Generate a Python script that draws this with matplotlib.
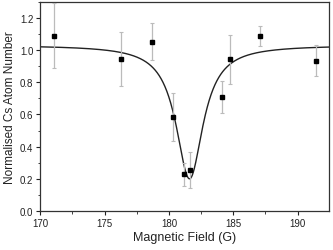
import numpy as np
import matplotlib
matplotlib.use("Agg")
import matplotlib.pyplot as plt
from matplotlib.ticker import MultipleLocator

plt.rcParams['font.family'] = ['Liberation Sans', 'DejaVu Sans']

# measured data
field = [171.04, 176.27, 178.70, 180.34, 181.17, 181.63, 184.09, 184.71, 187.04, 191.42]
atoms = [1.090, 0.945, 1.053, 0.585, 0.228, 0.255, 0.707, 0.943, 1.088, 0.933]
err = [0.200, 0.168, 0.115, 0.148, 0.070, 0.114, 0.100, 0.152, 0.060, 0.096]

# Lorentzian fit parameters
fit_base = 1.03
fit_depth = 0.83
fit_center = 181.6
fit_width = 1.28

fig = plt.figure(figsize=(3.33, 2.51), dpi=100)
ax = fig.add_axes([0.121, 0.1554, 0.8655, 0.8336])

xf = np.linspace(170, 192.4, 600)
yf = fit_base - fit_depth / (1 + ((xf - fit_center) / fit_width) ** 2)
ax.plot(xf, yf, color='#222222', lw=1.0, zorder=2)

ax.errorbar(field, atoms, yerr=err, fmt='s', color='black', ms=3.4,
            ecolor='#bbbbbb', elinewidth=0.9, capsize=1.6, capthick=0.8, zorder=3)

ax.set_xlim(170, 192.4)
ax.set_ylim(0, 1.3)
ax.xaxis.set_major_locator(MultipleLocator(5))
ax.xaxis.set_minor_locator(MultipleLocator(2.5))
ax.yaxis.set_major_locator(MultipleLocator(0.2))
ax.yaxis.set_minor_locator(MultipleLocator(0.1))
ax.yaxis.set_major_formatter(plt.FormatStrFormatter('%.1f'))
ax.tick_params(which='both', direction='out', labelsize=7, colors='#222222', pad=2)
ax.tick_params(which='major', length=3, width=0.8)
ax.tick_params(which='minor', length=1.8, width=0.6)
for s in ax.spines.values():
    s.set_linewidth(0.9)
    s.set_color('#333333')

ax.set_xlabel('Magnetic Field (G)', fontsize=9, labelpad=2, color='#222222')
ax.set_ylabel('Normalised Cs Atom Number', fontsize=8.5, labelpad=3, color='#222222')

fig.savefig('out.png', dpi=100)
